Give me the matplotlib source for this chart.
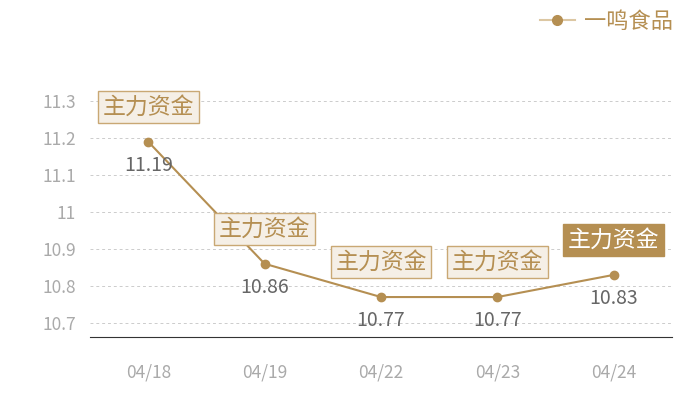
import matplotlib.pyplot as plt
from matplotlib.lines import Line2D

plt.rcParams['font.family'] = ['Noto Sans CJK SC', 'DejaVu Sans']

dates = ['04/18', '04/19', '04/22', '04/23', '04/24']
prices = [11.19, 10.86, 10.77, 10.77, 10.83]
y_ticks = [10.7, 10.8, 10.9, 11.0, 11.1, 11.2, 11.3]
y_tick_labels = ['10.7', '10.8', '10.9', '11', '11.1', '11.2', '11.3']
series_name = '一鸣食品'
tag_text = '主力资金'

gold = '#b58f52'
light_gold = '#c9a874'
pale = '#f5efe6'


def main():
    fig = plt.figure(figsize=(7, 4), dpi=100)
    ax = fig.add_axes([90 / 700, 63 / 400, 582 / 700, 273 / 400])

    x = list(range(len(dates)))
    ax.plot(x, prices, color=gold, lw=1.5, marker='o', ms=6, zorder=3)

    ax.set_xlim(-0.5, len(dates) - 0.5)
    ax.set_ylim(10.662, 11.4)
    ax.set_xticks(x)
    ax.set_xticklabels(dates)
    ax.set_yticks(y_ticks)
    ax.set_yticklabels(y_tick_labels)
    ax.tick_params(axis='both', length=0, colors='#aaaaaa', labelsize=12.5)
    ax.tick_params(axis='x', pad=19)
    ax.tick_params(axis='y', pad=10)
    ax.grid(axis='y', color='#cccccc', ls=(0, (3, 3)), lw=0.7)
    for side in ['top', 'right', 'left']:
        ax.spines[side].set_visible(False)
    ax.spines['bottom'].set_color('#333333')

    for i, p in enumerate(prices):
        ax.annotate(f'{p:.2f}', (i, p), xytext=(0, -17), textcoords='offset points',
                    ha='center', va='center', fontsize=14, color='#666666')
        last = i == len(prices) - 1
        ax.annotate(tag_text, (i, p), xytext=(0, 25), textcoords='offset points',
                    ha='center', va='center', fontsize=16.5,
                    color='white' if last else gold,
                    bbox=dict(boxstyle='square,pad=0.2',
                              fc=gold if last else pale,
                              ec=gold if last else light_gold, lw=1),
                    annotation_clip=False, zorder=4)

    handle = Line2D([], [], color='#dcc7a3', lw=1.5, marker='o', ms=7,
                    mfc=gold, mec=gold)
    fig.legend([handle], [series_name], loc='upper right',
               bbox_to_anchor=(0.99, 1.025), frameon=False, fontsize=16,
               labelcolor=gold, handlelength=1.6, handletextpad=0.4)

    fig.savefig('out.png', dpi=100)


if __name__ == "__main__":
    main()
